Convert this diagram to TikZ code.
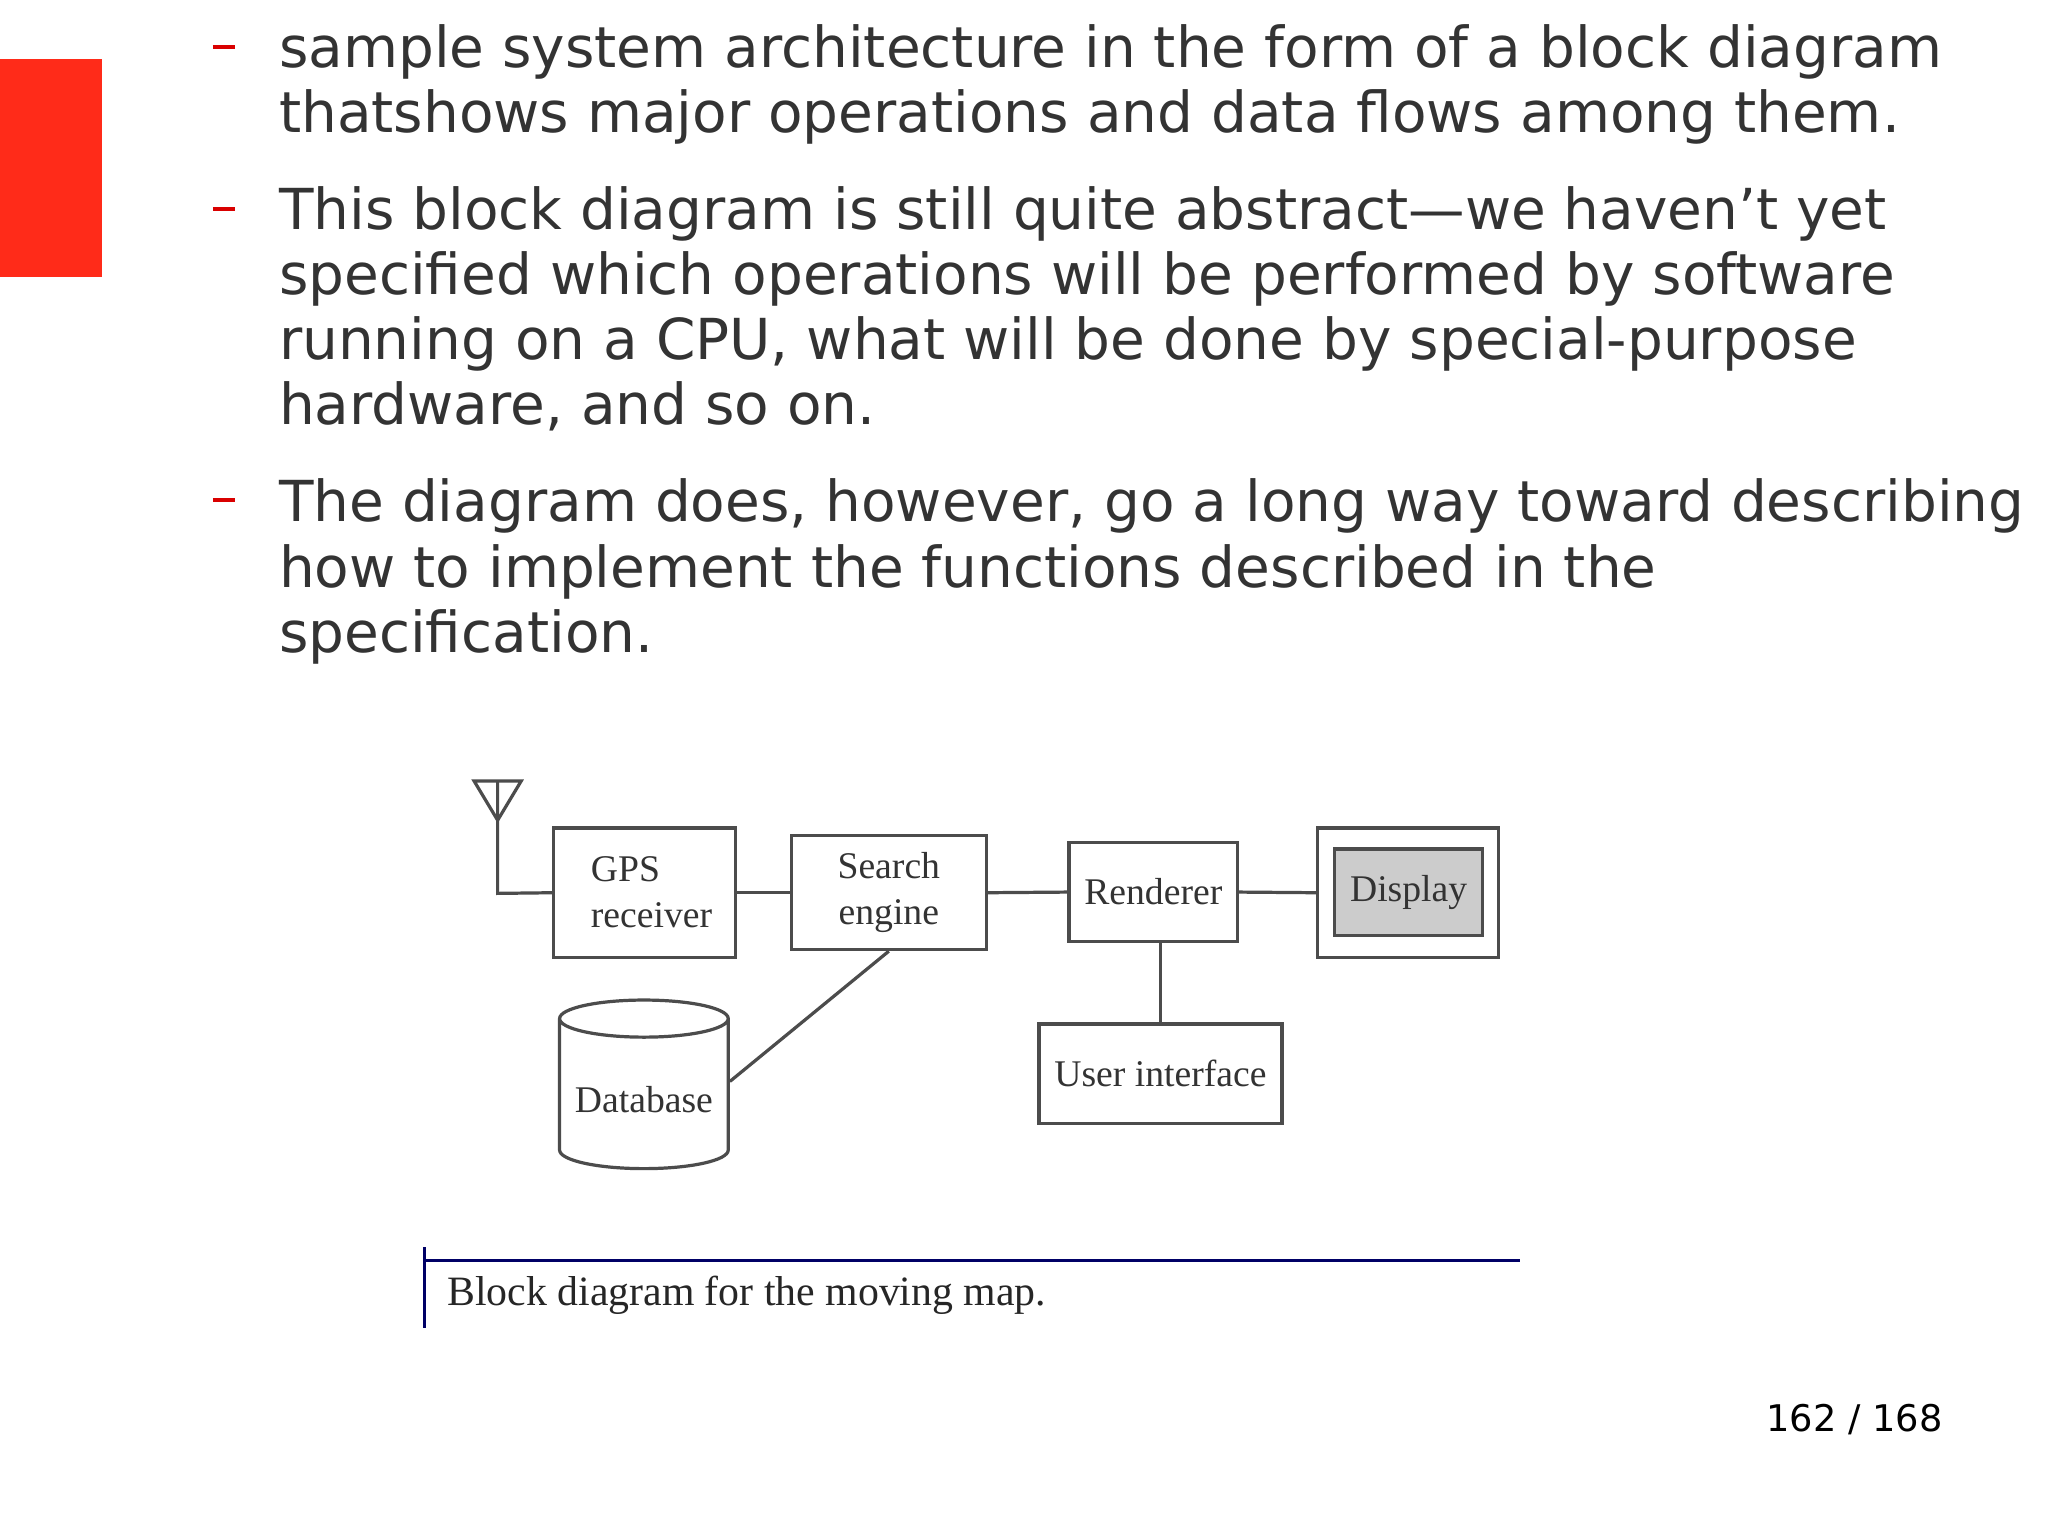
\documentclass[tikz,border=0pt]{standalone}
\usepackage{fontspec}
\setmainfont{DejaVu Sans}
\newfontfamily\dfont{Liberation Serif}
\usetikzlibrary{shapes.geometric}
\begin{document}
\begin{tikzpicture}[x=0.01cm,y=-0.01cm,
  bul/.style={anchor=north west,align=left,font=\fontsize{12.3}{14.2}\selectfont,text=black!80,inner sep=0},
  bdash/.style={red!85!black,line width=0.8pt},
  box/.style={draw=black!70,line width=0.7pt,font=\dfont\fontsize{8.2}{10}\selectfont,text=black!80},
  wire/.style={draw=black!70,line width=0.7pt}]
\useasboundingbox[fill=white] (0,0) rectangle (1568,1176);
\fill[red!85!orange!90] (0,45) rectangle (78,212);
\draw[bdash] (163,36) -- (180,36);
\draw[bdash] (163,160) -- (180,160);
\draw[bdash] (163,383) -- (180,383);
\node[bul] (t1) at (213,18) {sample system architecture in the form of a block diagram\\thatshows major operations and data flows among them.};
\node[bul] (t2) at (213,142) {This block diagram is still quite abstract—we haven’t yet\\specified which operations will be performed by software\\running on a CPU, what will be done by special-purpose\\hardware, and so on.};
\node[bul] (t3) at (213,366) {The diagram does, however, go a long way toward describing\\how to implement the functions described in the\\specification.};
% diagram
\draw[wire] (363,598) -- (399,598) -- (381,628) -- cycle;
\coordinate (ant) at (381,598);
\coordinate (antc) at (381,684);
\node[box,minimum width=1.39cm,minimum height=0.99cm,inner sep=0] (gps) at (493.5,683.5) {};
\node[font=\dfont\fontsize{8.2}{10}\selectfont,text=black!80,align=left,anchor=west] at (440,683) {GPS\\receiver};
\node[box,minimum width=1.49cm,minimum height=0.87cm,align=center] (se) at (680.5,683.5) {Search\\engine};
\node[box,minimum width=1.28cm,minimum height=0.76cm] (rd) at (883,683) {Renderer};
\node[box,minimum width=1.38cm,minimum height=0.99cm,inner sep=0] (dout) at (1078,683.5) {};
\node[box,fill=black!20,minimum width=1.11cm,minimum height=0.66cm] (disp) at (1078.5,683) {Display};
\node[box,minimum width=1.83cm,minimum height=0.76cm] (ui) at (888.5,822) {User interface};
\node[box,cylinder,shape border rotate=90,aspect=0.22,minimum width=1.24cm,minimum height=1.29cm] (db) at (493,842) {Database};
\draw[wire] (ant) -- (antc) -- (gps.west);
\draw[wire] (gps.east) -- (se.west);
\draw[wire] (se.east) -- (rd.west);
\draw[wire] (rd.east) -- (dout.west);
\draw[wire] (rd.south -| ui.north) -- (ui.north);
\draw[wire] (se.south) -- ([yshift=0.14cm]db.east);
% caption
\coordinate (c1) at (325,965); \coordinate (c2) at (1164,965);
\coordinate (c3) at (325,955); \coordinate (c4) at (325,1017);
\draw[blue!40!black,line width=0.8pt] (c1) -- (c2);
\draw[blue!40!black,line width=0.8pt] (c3) -- (c4);
\node[anchor=west,font=\dfont\fontsize{9.1}{11}\selectfont,text=black!85] (cap) at (330,992) {Block diagram for the moving map.};
\node[anchor=east,inner sep=0,font=\fontsize{8}{10}\selectfont] (pg) at (1488,1087) {162 / 168};
\end{tikzpicture}
\end{document}
